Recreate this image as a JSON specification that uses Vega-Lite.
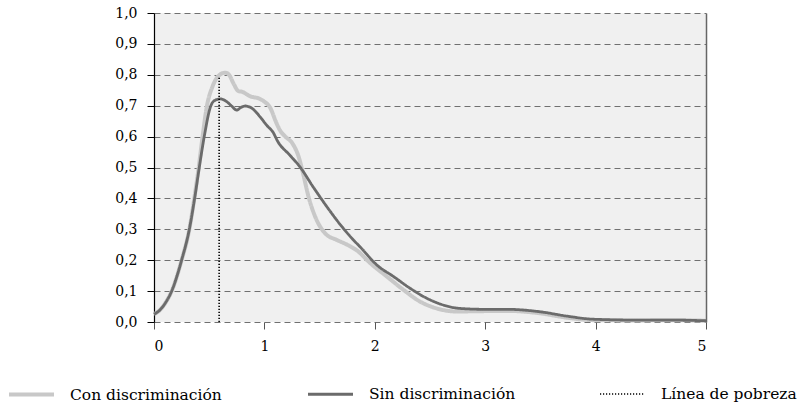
{
  "$schema": "https://vega.github.io/schema/vega-lite/v6.json",
  "width": 552,
  "height": 309,
  "autosize": {"type": "none"},
  "padding": {"left": 154, "top": 13, "right": 103, "bottom": 86},
  "background": "white",
  "config": {
    "view": {"stroke": null, "fill": "#f0f0f0"},
    "font": "DejaVu Serif",
    "axis": {"labelFont": "DejaVu Serif", "labelFontSize": 14, "labelColor": "#000000"},
    "legend": {"labelFont": "DejaVu Serif"}
  },
  "datasets": {
    "curves": [
      {"serie": "Con discriminación", "x": 0, "y": 0.025},
      {"serie": "Con discriminación", "x": 0.054, "y": 0.039},
      {"serie": "Con discriminación", "x": 0.1, "y": 0.06},
      {"serie": "Con discriminación", "x": 0.16, "y": 0.1},
      {"serie": "Con discriminación", "x": 0.25, "y": 0.2},
      {"serie": "Con discriminación", "x": 0.32, "y": 0.3},
      {"serie": "Con discriminación", "x": 0.365, "y": 0.4},
      {"serie": "Con discriminación", "x": 0.405, "y": 0.5},
      {"serie": "Con discriminación", "x": 0.44, "y": 0.6},
      {"serie": "Con discriminación", "x": 0.48, "y": 0.7},
      {"serie": "Con discriminación", "x": 0.53, "y": 0.762},
      {"serie": "Con discriminación", "x": 0.58, "y": 0.795},
      {"serie": "Con discriminación", "x": 0.644, "y": 0.807},
      {"serie": "Con discriminación", "x": 0.68, "y": 0.8},
      {"serie": "Con discriminación", "x": 0.72, "y": 0.772},
      {"serie": "Con discriminación", "x": 0.765, "y": 0.747},
      {"serie": "Con discriminación", "x": 0.8, "y": 0.745},
      {"serie": "Con discriminación", "x": 0.835, "y": 0.738},
      {"serie": "Con discriminación", "x": 0.87, "y": 0.731},
      {"serie": "Con discriminación", "x": 0.96, "y": 0.722},
      {"serie": "Con discriminación", "x": 1.0, "y": 0.713},
      {"serie": "Con discriminación", "x": 1.05, "y": 0.695},
      {"serie": "Con discriminación", "x": 1.11, "y": 0.643},
      {"serie": "Con discriminación", "x": 1.14, "y": 0.621},
      {"serie": "Con discriminación", "x": 1.19, "y": 0.6},
      {"serie": "Con discriminación", "x": 1.25, "y": 0.58},
      {"serie": "Con discriminación", "x": 1.31, "y": 0.535},
      {"serie": "Con discriminación", "x": 1.35, "y": 0.481},
      {"serie": "Con discriminación", "x": 1.4, "y": 0.405},
      {"serie": "Con discriminación", "x": 1.46, "y": 0.341},
      {"serie": "Con discriminación", "x": 1.55, "y": 0.287},
      {"serie": "Con discriminación", "x": 1.66, "y": 0.265},
      {"serie": "Con discriminación", "x": 1.75, "y": 0.25},
      {"serie": "Con discriminación", "x": 1.84, "y": 0.231},
      {"serie": "Con discriminación", "x": 1.96, "y": 0.19},
      {"serie": "Con discriminación", "x": 2.11, "y": 0.147},
      {"serie": "Con discriminación", "x": 2.26, "y": 0.104},
      {"serie": "Con discriminación", "x": 2.41, "y": 0.066},
      {"serie": "Con discriminación", "x": 2.56, "y": 0.044},
      {"serie": "Con discriminación", "x": 2.74, "y": 0.034},
      {"serie": "Con discriminación", "x": 2.95, "y": 0.035},
      {"serie": "Con discriminación", "x": 3.2, "y": 0.036},
      {"serie": "Con discriminación", "x": 3.5, "y": 0.028},
      {"serie": "Con discriminación", "x": 3.74, "y": 0.014},
      {"serie": "Con discriminación", "x": 3.98, "y": 0.006},
      {"serie": "Con discriminación", "x": 4.4, "y": 0.005},
      {"serie": "Con discriminación", "x": 4.7, "y": 0.006},
      {"serie": "Con discriminación", "x": 5.0, "y": 0.004},
      {"serie": "Sin discriminación", "x": 0, "y": 0.025},
      {"serie": "Sin discriminación", "x": 0.054, "y": 0.039},
      {"serie": "Sin discriminación", "x": 0.1, "y": 0.06},
      {"serie": "Sin discriminación", "x": 0.16, "y": 0.1},
      {"serie": "Sin discriminación", "x": 0.25, "y": 0.2},
      {"serie": "Sin discriminación", "x": 0.32, "y": 0.3},
      {"serie": "Sin discriminación", "x": 0.368, "y": 0.4},
      {"serie": "Sin discriminación", "x": 0.41, "y": 0.5},
      {"serie": "Sin discriminación", "x": 0.455, "y": 0.6},
      {"serie": "Sin discriminación", "x": 0.515, "y": 0.7},
      {"serie": "Sin discriminación", "x": 0.555, "y": 0.718},
      {"serie": "Sin discriminación", "x": 0.6, "y": 0.722},
      {"serie": "Sin discriminación", "x": 0.659, "y": 0.713},
      {"serie": "Sin discriminación", "x": 0.7, "y": 0.7},
      {"serie": "Sin discriminación", "x": 0.75, "y": 0.686},
      {"serie": "Sin discriminación", "x": 0.79, "y": 0.695},
      {"serie": "Sin discriminación", "x": 0.825, "y": 0.699},
      {"serie": "Sin discriminación", "x": 0.886, "y": 0.692},
      {"serie": "Sin discriminación", "x": 0.961, "y": 0.664},
      {"serie": "Sin discriminación", "x": 1.02, "y": 0.637},
      {"serie": "Sin discriminación", "x": 1.08, "y": 0.613},
      {"serie": "Sin discriminación", "x": 1.12, "y": 0.585},
      {"serie": "Sin discriminación", "x": 1.23, "y": 0.54},
      {"serie": "Sin discriminación", "x": 1.32, "y": 0.503},
      {"serie": "Sin discriminación", "x": 1.44, "y": 0.438},
      {"serie": "Sin discriminación", "x": 1.566, "y": 0.373},
      {"serie": "Sin discriminación", "x": 1.69, "y": 0.314},
      {"serie": "Sin discriminación", "x": 1.8, "y": 0.268},
      {"serie": "Sin discriminación", "x": 1.87, "y": 0.242},
      {"serie": "Sin discriminación", "x": 2.02, "y": 0.184},
      {"serie": "Sin discriminación", "x": 2.17, "y": 0.147},
      {"serie": "Sin discriminación", "x": 2.32, "y": 0.109},
      {"serie": "Sin discriminación", "x": 2.47, "y": 0.077},
      {"serie": "Sin discriminación", "x": 2.62, "y": 0.055},
      {"serie": "Sin discriminación", "x": 2.77, "y": 0.044},
      {"serie": "Sin discriminación", "x": 3.0, "y": 0.041},
      {"serie": "Sin discriminación", "x": 3.2, "y": 0.041},
      {"serie": "Sin discriminación", "x": 3.5, "y": 0.033},
      {"serie": "Sin discriminación", "x": 3.74, "y": 0.019},
      {"serie": "Sin discriminación", "x": 3.98, "y": 0.009},
      {"serie": "Sin discriminación", "x": 4.4, "y": 0.006},
      {"serie": "Sin discriminación", "x": 4.7, "y": 0.006},
      {"serie": "Sin discriminación", "x": 5.0, "y": 0.004}
    ],
    "pobreza": [
      {"serie": "Línea de pobreza", "x": 0.59, "y": 0, "y2": 0.795}
    ]
  },
  "layer": [
    {
      "data": {"name": "curves"},
      "mark": {"type": "line", "interpolate": "monotone"},
      "encoding": {
        "x": {
          "field": "x", "type": "quantitative",
          "scale": {"domain": [0, 5], "nice": false, "zero": false},
          "axis": {
            "title": null, "values": [0, 1, 2, 3, 4, 5], "format": "d",
            "domain": false, "grid": false, "ticks": true, "tickSize": 7,
            "tickColor": "#555555", "labelPadding": 10
          }
        },
        "y": {
          "field": "y", "type": "quantitative",
          "scale": {"domain": [0, 1], "nice": false},
          "axis": {
            "title": null, "orient": "left",
            "values": [0, 0.1, 0.2, 0.3, 0.4, 0.5, 0.6, 0.7, 0.8, 0.9, 1.0],
            "labelExpr": "replace(format(datum.value, '.1f'), '.', ',')",
            "domain": true, "domainColor": "#000000", "domainWidth": 1.2,
            "ticks": true, "tickColor": "#000000", "tickSize": 7,
            "labelPadding": 10,
            "grid": true, "gridColor": "#707070", "gridDash": [6, 4], "gridWidth": 1.2
          }
        },
        "color": {
          "field": "serie", "type": "nominal",
          "scale": {
            "domain": ["Con discriminación", "Sin discriminación", "Línea de pobreza"],
            "range": ["#c8c8c8", "#6b6b6b", "#000000"]
          },
          "legend": {
            "title": null, "orient": "none", "legendX": -147, "legendY": 357,
            "direction": "horizontal", "columns": 3, "symbolType": "stroke",
            "symbolSize": 2025, "labelOffset": 14, "columnPadding": 80,
            "labelFontSize": 15.5, "labelColor": "#000000",
            "padding": 0, "labelLimit": 300
          }
        },
        "strokeWidth": {
          "field": "serie", "type": "nominal",
          "scale": {
            "domain": ["Con discriminación", "Sin discriminación", "Línea de pobreza"],
            "range": [4, 1.6, 1.1]
          }
        },
        "strokeDash": {
          "field": "serie", "type": "nominal",
          "scale": {
            "domain": ["Con discriminación", "Sin discriminación", "Línea de pobreza"],
            "range": [[1, 0], [1, 0], [1.2, 1.8]]
          }
        }
      }
    },
    {
      "data": {"name": "pobreza"},
      "mark": {"type": "rule"},
      "encoding": {
        "x": {"field": "x", "type": "quantitative"},
        "y": {
          "field": "y", "type": "quantitative",
          "axis": {
            "title": null, "orient": "right", "labels": false, "ticks": false,
            "grid": false, "domain": true, "domainColor": "#666666", "domainWidth": 1.5
          }
        },
        "y2": {"field": "y2"},
        "color": {"field": "serie", "type": "nominal"},
        "strokeWidth": {"field": "serie", "type": "nominal"},
        "strokeDash": {"field": "serie", "type": "nominal"}
      }
    }
  ],
  "resolve": {"axis": {"y": "independent"}}
}
